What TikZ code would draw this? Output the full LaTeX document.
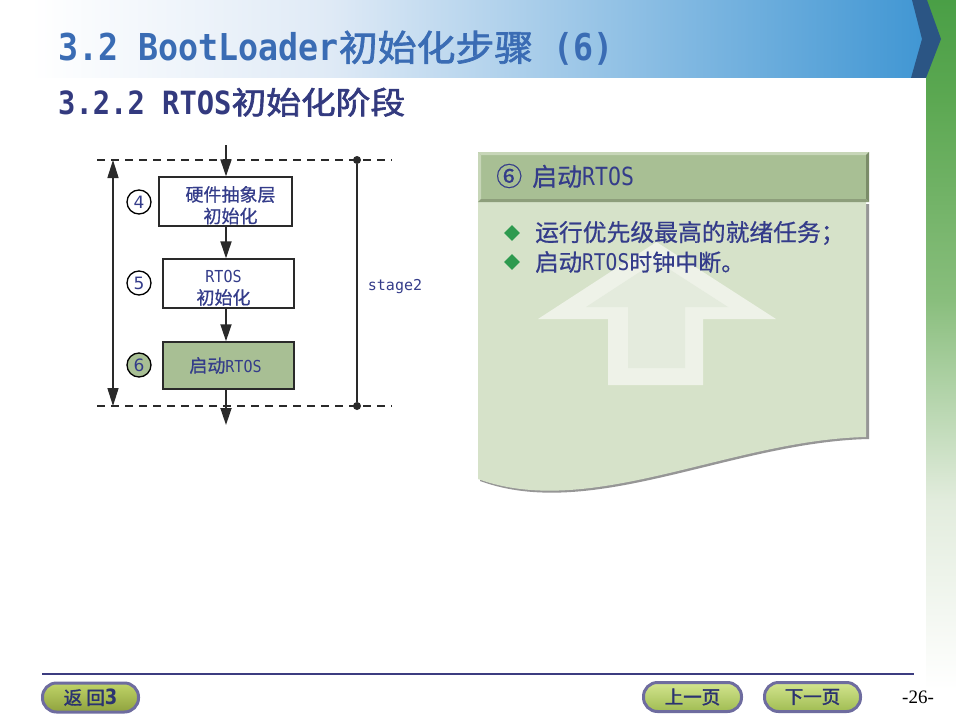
\documentclass[tikz,border=0pt]{standalone}
\usepackage{fontspec}
\usetikzlibrary{arrows.meta,shapes.geometric}
\newfontfamily\cjk[FakeBold=0.7]{Noto Sans CJK SC}
\newfontfamily\cjkb[FakeBold=1.8]{Noto Sans CJK SC}
\newfontfamily\mono{DejaVu Sans Mono}
\newfontfamily\sanss{DejaVu Sans}
\newfontfamily\tnr{Liberation Serif}
\newcommand\myfs[1]{\fontsize{#1pt}{#1pt}\selectfont}
\newcommand\lat[3]{\scalebox{#2}[1]{\mono\myfs{#1}#3}}
\definecolor{titleblue}{HTML}{3A6CB4}
\definecolor{subnavy}{HTML}{333A7F}
\definecolor{navy}{HTML}{343C8A}
\definecolor{hdrmid}{HTML}{DFEAF6}
\definecolor{hdrend}{HTML}{4096D3}
\definecolor{chev}{HTML}{2B5584}
\definecolor{gA}{HTML}{4A9F46}
\definecolor{gB}{HTML}{5CA852}
\definecolor{gC}{HTML}{89BE7D}
\definecolor{gD}{HTML}{E2ECDD}
\definecolor{linegray}{HTML}{2A2A2A}
\definecolor{sage}{HTML}{A8BF94}
\definecolor{sagelight}{HTML}{C7D6B8}
\definecolor{sagedark}{HTML}{7B8C69}
\definecolor{sagebot}{HTML}{8D9E7B}
\definecolor{bodyg}{HTML}{D6E2C9}
\definecolor{shadowg}{HTML}{969696}
\definecolor{wmout}{HTML}{EEF2E8}
\definecolor{wmin}{HTML}{E4EBDD}
\definecolor{bulletg}{HTML}{2E9A4F}
\definecolor{btnborder}{HTML}{6E6C9F}
\definecolor{btntext}{HTML}{2B3370}
\definecolor{btnAtop}{HTML}{C0D468}
\definecolor{btnAbot}{HTML}{8FA23E}
\definecolor{btnBtop}{HTML}{D3E58F}
\definecolor{btnBbot}{HTML}{A0BC52}
\definecolor{footline}{HTML}{3C3C80}
\tikzset{
  fbox/.style={draw=linegray, line width=1.3pt, fill=white, minimum width=133pt,
    minimum height=49pt, inner sep=0pt, text=navy,
    font=\fontsize{18pt}{21.5pt}\selectfont\cjk},
  flowarr/.style={line width=1.8pt, draw=linegray, -{Triangle[width=11pt,length=17pt]}},
  dashline/.style={line width=1.2pt, draw=linegray, dash pattern=on 8pt off 6pt},
  numc/.style={circle, draw=black, line width=1.3pt, minimum size=24pt, inner sep=0pt,
    font=\sanss\myfs{17}, text=navy},
  dotn/.style={circle, fill=linegray, minimum size=8pt, inner sep=0pt},
  bul/.style={diamond, fill=bulletg, minimum size=16pt, inner sep=0pt},
  btxt/.style={anchor=west, inner sep=0pt, text=navy},
  btn/.style={rounded corners=14pt, draw=btnborder, line width=3pt, minimum width=96pt,
    minimum height=29pt, inner sep=0pt, text=btntext, font=\cjkb\myfs{18.5}}
}
\begin{document}
\begin{tikzpicture}[x=1pt,y=-1pt]
\useasboundingbox (0,0) rectangle (956,717);
\fill[white] (0,0) rectangle (956,717);
% green side bar
\shade[top color=gA, bottom color=gB] (926,0) rectangle (956,100.5);
\shade[top color=gB, bottom color=gC] (926,100) rectangle (956,300.5);
\shade[top color=gC, bottom color=gD] (926,300) rectangle (956,500.5);
\shade[top color=gD, bottom color=white] (926,500) rectangle (956,690);
% header band
\shade[left color=white, right color=hdrmid] (30,0) rectangle (330.5,78);
\shade[left color=hdrmid, right color=hdrend] (330,0) rectangle (926,78);
\fill[chev] (912,0) -- (927,0) -- (941,39) -- (926,78) -- (911,78) -- (922,39) -- cycle;
% titles
\node[anchor=base west, inner sep=0pt, text=titleblue] (title) at (58,61)
  {\scalebox{0.9}[1]{\myfs{37}\mono\bfseries 3.2 BootLoader}\scalebox{1.08}[1]{\myfs{36}\cjkb 初始化步骤}\scalebox{0.9}[1]{\myfs{37}\mono\bfseries\ (6)}};
\node[anchor=base west, inner sep=0pt, text=subnavy] (subtitle) at (58,114)
  {\scalebox{0.9}[1]{\myfs{32}\mono\bfseries 3.2.2 RTOS}\scalebox{1.12}[1]{\myfs{31}\cjkb 初始化阶段}};
% flow chart
\coordinate (dtl) at (97,160);
\coordinate (dtr) at (392,160);
\coordinate (dbl) at (97,406);
\coordinate (dbr) at (392,406);
\draw[dashline] (dtl) -- (dtr);
\draw[dashline] (dbl) -- (dbr);
\coordinate (lt) at (113,160);
\coordinate (lb) at (113,406);
\draw[line width=1.5pt, draw=linegray, {Triangle[width=11pt,length=18pt]}-{Triangle[width=11pt,length=18pt]}] (lt) -- (lb);
\node[dotn] (rt) at (357,160) {};
\node[dotn] (rb) at (357,406) {};
\draw[line width=1.3pt, draw=linegray] (rt) -- (rb);
\node[text=navy, font=\mono\myfs{15}] (st) at (395,287) {stage2};
\node[fbox] (b1) at (225.5,201.5)
  {\raisebox{-10.5pt}[0pt][0pt]{\begin{tabular}{@{}c@{}}\hspace*{10pt}硬件抽象层\\\hspace*{10pt}初始化\end{tabular}}};
\node[fbox, minimum width=131pt] (b2) at (228.5,283.5)
  {\raisebox{-10pt}[0pt][0pt]{\begin{tabular}{@{}c@{}}\lat{16.5}{0.91}{RTOS}\hspace*{10pt}\\初始化\hspace*{10pt}\end{tabular}}};
\node[fbox, minimum width=131pt, minimum height=47pt, fill=sage, line width=1.5pt] (b3) at (228.5,365.5)
  {启动\lat{16.5}{0.91}{RTOS}\hspace*{6pt}};
\coordinate (fin) at (226,145);
\coordinate (fout) at (226,425);
\draw[flowarr] (fin) -- (fin |- b1.north);
\draw[flowarr] (fin |- b1.south) -- (fin |- b2.north);
\draw[flowarr] (fin |- b2.south) -- (fin |- b3.north);
\draw[flowarr] (fin |- b3.south) -- (fout);
\node[numc] (n4) at (139,202) {4};
\node[numc] (n5) at (139,283) {5};
\node[numc, fill=sage] (n6) at (139,365) {6};
% right panel
\fill[shadowg] (480,204) -- (869,204) -- (869,439) .. controls (732,442) and (592,522) .. (480,481) -- cycle;
\fill[bodyg] (478,202) -- (866,202) -- (866,437) .. controls (730,440) and (590,520) .. (478,479) -- cycle;
\fill[wmout] (656.5,242) -- (776,319) -- (703,319) -- (703,385) -- (608,385) -- (608,319) -- (538,319) -- cycle;
\fill[wmin] (656.5,261) -- (728,307) -- (685,307) -- (685,368) -- (628,368) -- (628,307) -- (586,307) -- cycle;
\fill[sage] (478,152) rectangle (869,202);
\fill[sagelight] (478,152) -- (869,152) -- (866,155) -- (481,155) -- cycle;
\fill[sagelight] (478,152) -- (481,155) -- (481,199) -- (478,202) -- cycle;
\fill[sagedark] (869,152) -- (869,202) -- (866,199) -- (866,155) -- cycle;
\fill[sagebot] (478,202) -- (869,202) -- (866,199) -- (481,199) -- cycle;
\node[anchor=west, inner sep=0pt, text=navy] (ptitle) at (496,176)
  {{\cjk\myfs{26}⑥}\hspace{10pt}{\cjk\myfs{25}启动}\lat{25}{0.86}{RTOS}};
\node[bul] (d1) at (512,233) {};
\node[bul] (d2) at (512,262) {};
\node[btxt] (t1) at (535,233) {\cjk\myfs{23.8}运行优先级最高的就绪任务；};
\node[btxt] (t2) at (535,262) {{\cjk\myfs{23.5}启动}\lat{23}{0.85}{RTOS}{\cjk\myfs{23}时钟中断。}};
% footer
\coordinate (fl) at (42,674);
\coordinate (fr) at (914,674);
\draw[footline, line width=1.3pt] (fl) -- (fr);
\node[btn, top color=btnAtop, bottom color=btnAbot] (back) at (90.5,697.5)
  {返 回\scalebox{0.85}[1]{\sanss\bfseries\myfs{21}3}};
\node[btn, top color=btnBtop, bottom color=btnBbot, minimum width=98pt] (prev) at (692.5,697)
  {上一页};
\node[btn, top color=btnBtop, bottom color=btnBbot, minimum width=96pt] (next) at (812.5,697)
  {下一页};
\node[font=\tnr\myfs{19}] (pg) at (918,697) {-26-};
\end{tikzpicture}
\end{document}
